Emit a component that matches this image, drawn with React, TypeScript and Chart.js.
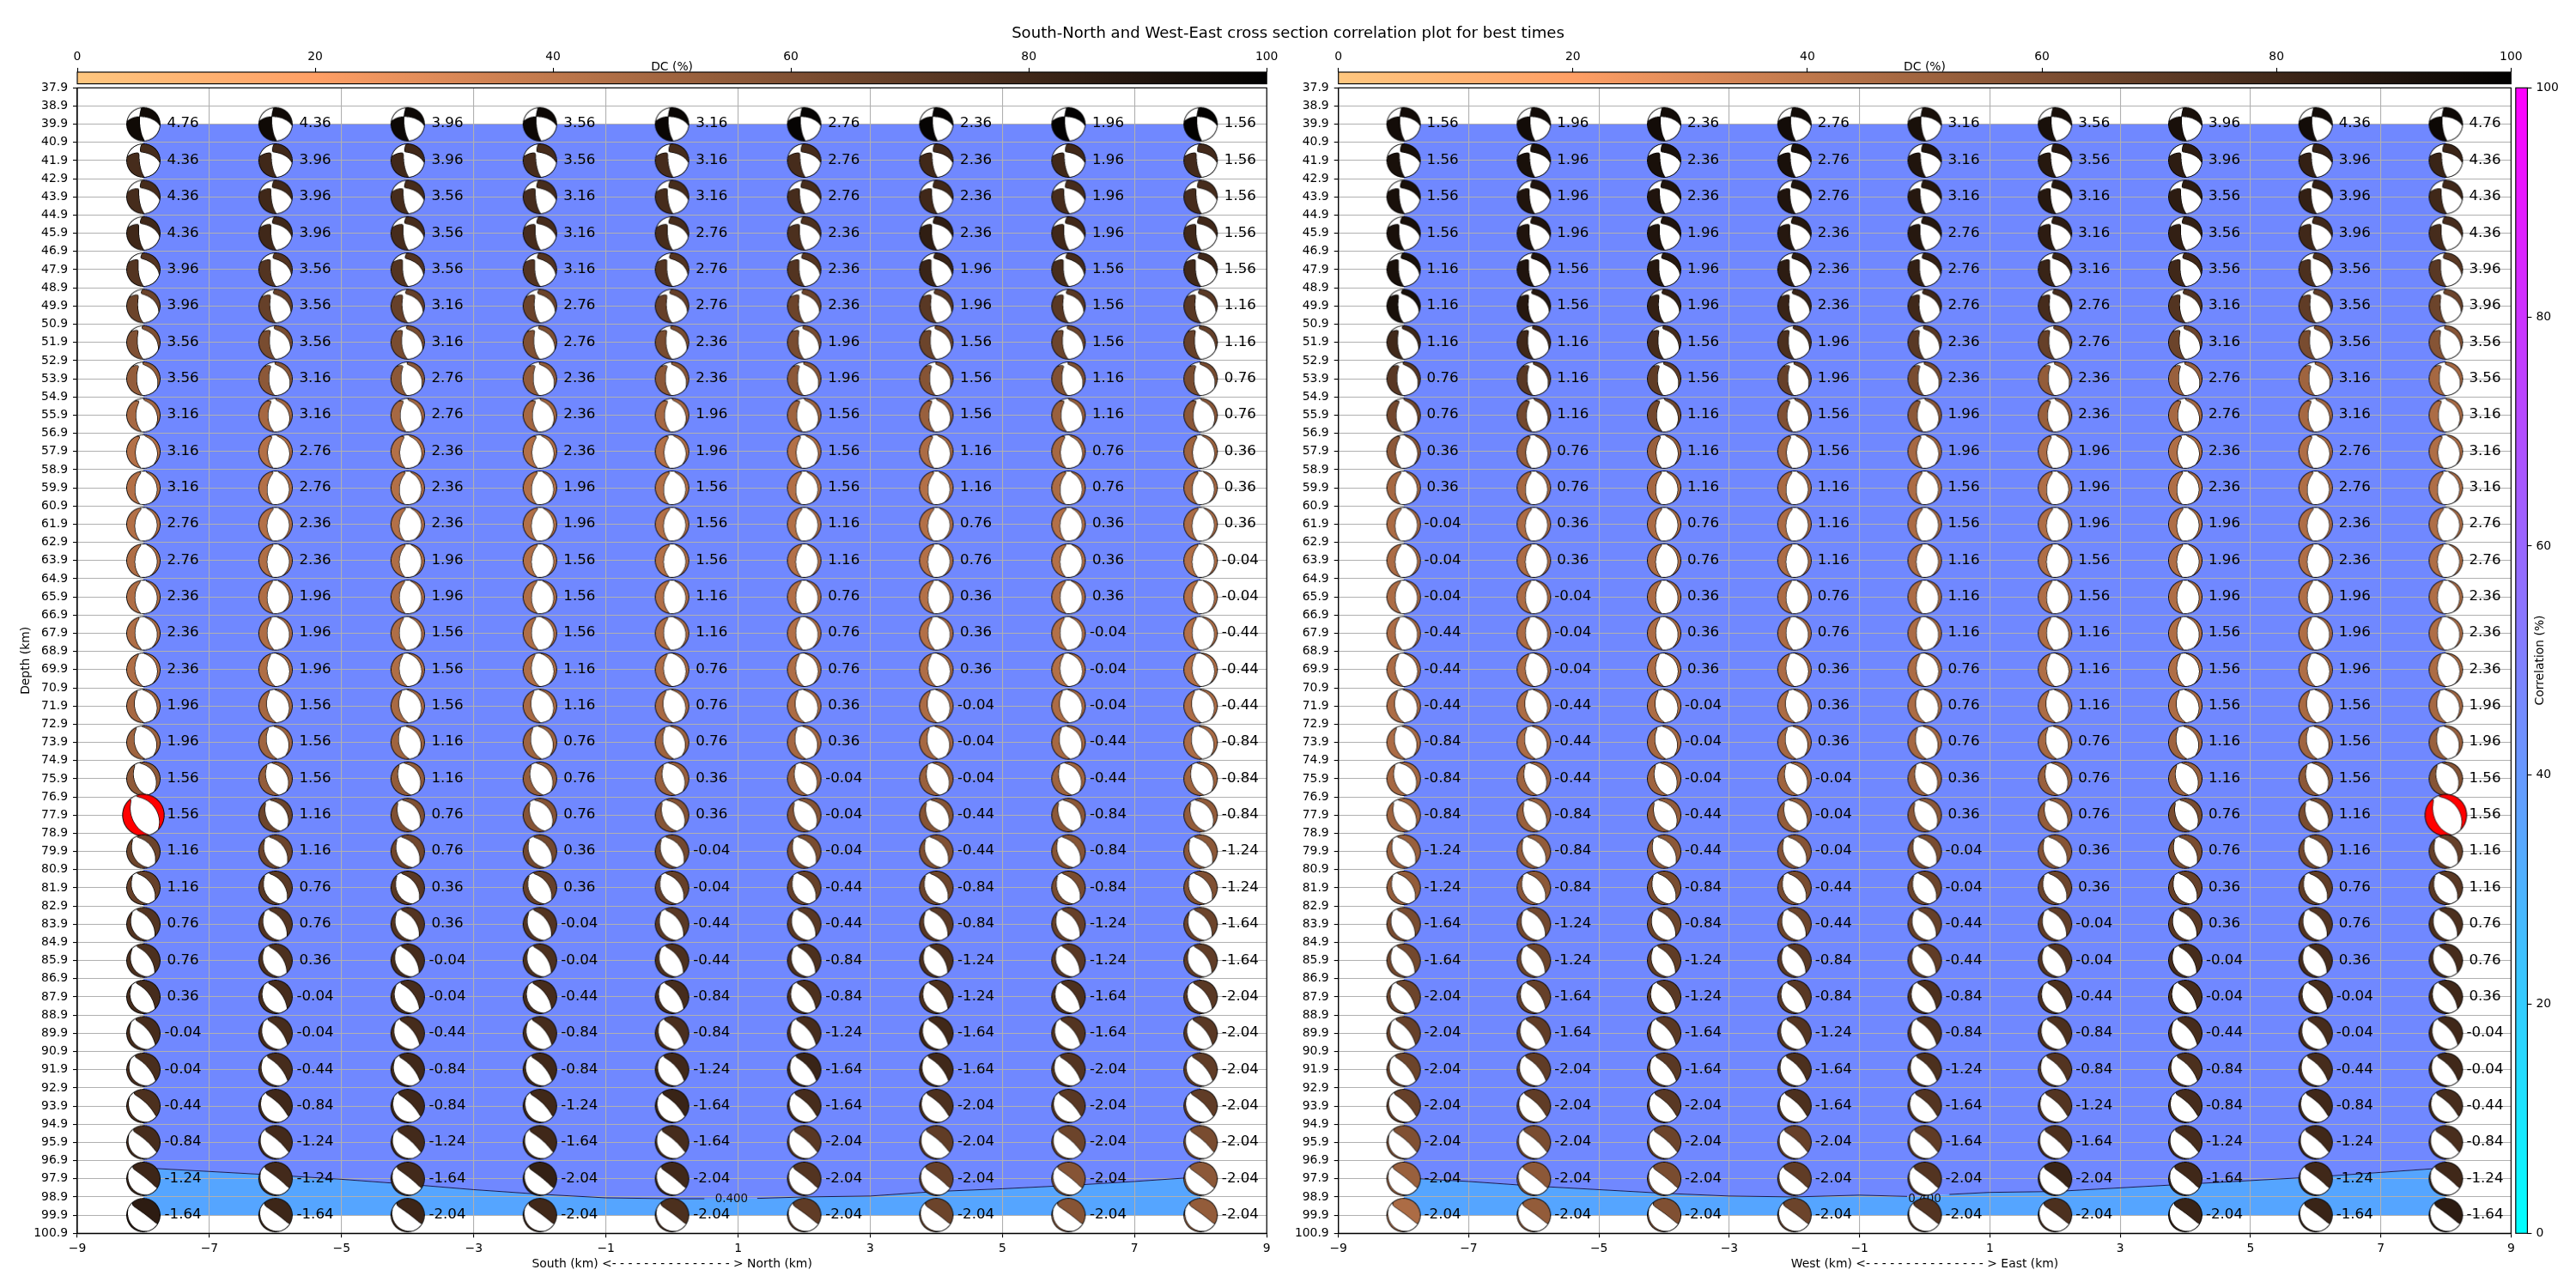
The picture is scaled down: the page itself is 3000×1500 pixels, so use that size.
import React, { useEffect, useRef } from "react";
import { Chart, registerables } from "chart.js";

Chart.register(...registerables);

const FONT = "'DejaVu Sans'";
const mainTitle = "South-North and West-East cross section correlation plot for best times";
const leftXTitle = "South (km) <- - - - - - - - - - - - - - - > North (km)";
const rightXTitle = "West (km) <- - - - - - - - - - - - - - - > East (km)";

const depthTicks = [37.9,38.9,39.9,40.9,41.9,42.9,43.9,44.9,45.9,46.9,47.9,48.9,49.9,50.9,51.9,52.9,53.9,54.9,55.9,56.9,57.9,58.9,59.9,60.9,61.9,62.9,63.9,64.9,65.9,66.9,67.9,68.9,69.9,70.9,71.9,72.9,73.9,74.9,75.9,76.9,77.9,78.9,79.9,80.9,81.9,82.9,83.9,84.9,85.9,86.9,87.9,88.9,89.9,90.9,91.9,92.9,93.9,94.9,95.9,96.9,97.9,98.9,99.9,100.9];
const xTicks = [-9,-7,-5,-3,-1,1,3,5,7,9];
const barTicks = [0,20,40,60,80,100];
const ballX = [-8,-6,-4,-2,0,2,4,6,8];
const ballDepths = [39.9,41.9,43.9,45.9,47.9,49.9,51.9,53.9,55.9,57.9,59.9,61.9,63.9,65.9,67.9,69.9,71.9,73.9,75.9,77.9,79.9,81.9,83.9,85.9,87.9,89.9,91.9,93.9,95.9,97.9,99.9];

const leftTimes = [
[4.76,4.36,3.96,3.56,3.16,2.76,2.36,1.96,1.56],
[4.36,3.96,3.96,3.56,3.16,2.76,2.36,1.96,1.56],
[4.36,3.96,3.56,3.16,3.16,2.76,2.36,1.96,1.56],
[4.36,3.96,3.56,3.16,2.76,2.36,2.36,1.96,1.56],
[3.96,3.56,3.56,3.16,2.76,2.36,1.96,1.56,1.56],
[3.96,3.56,3.16,2.76,2.76,2.36,1.96,1.56,1.16],
[3.56,3.56,3.16,2.76,2.36,1.96,1.56,1.56,1.16],
[3.56,3.16,2.76,2.36,2.36,1.96,1.56,1.16,0.76],
[3.16,3.16,2.76,2.36,1.96,1.56,1.56,1.16,0.76],
[3.16,2.76,2.36,2.36,1.96,1.56,1.16,0.76,0.36],
[3.16,2.76,2.36,1.96,1.56,1.56,1.16,0.76,0.36],
[2.76,2.36,2.36,1.96,1.56,1.16,0.76,0.36,0.36],
[2.76,2.36,1.96,1.56,1.56,1.16,0.76,0.36,-0.04],
[2.36,1.96,1.96,1.56,1.16,0.76,0.36,0.36,-0.04],
[2.36,1.96,1.56,1.56,1.16,0.76,0.36,-0.04,-0.44],
[2.36,1.96,1.56,1.16,0.76,0.76,0.36,-0.04,-0.44],
[1.96,1.56,1.56,1.16,0.76,0.36,-0.04,-0.04,-0.44],
[1.96,1.56,1.16,0.76,0.76,0.36,-0.04,-0.44,-0.84],
[1.56,1.56,1.16,0.76,0.36,-0.04,-0.04,-0.44,-0.84],
[1.56,1.16,0.76,0.76,0.36,-0.04,-0.44,-0.84,-0.84],
[1.16,1.16,0.76,0.36,-0.04,-0.04,-0.44,-0.84,-1.24],
[1.16,0.76,0.36,0.36,-0.04,-0.44,-0.84,-0.84,-1.24],
[0.76,0.76,0.36,-0.04,-0.44,-0.44,-0.84,-1.24,-1.64],
[0.76,0.36,-0.04,-0.04,-0.44,-0.84,-1.24,-1.24,-1.64],
[0.36,-0.04,-0.04,-0.44,-0.84,-0.84,-1.24,-1.64,-2.04],
[-0.04,-0.04,-0.44,-0.84,-0.84,-1.24,-1.64,-1.64,-2.04],
[-0.04,-0.44,-0.84,-0.84,-1.24,-1.64,-1.64,-2.04,-2.04],
[-0.44,-0.84,-0.84,-1.24,-1.64,-1.64,-2.04,-2.04,-2.04],
[-0.84,-1.24,-1.24,-1.64,-1.64,-2.04,-2.04,-2.04,-2.04],
[-1.24,-1.24,-1.64,-2.04,-2.04,-2.04,-2.04,-2.04,-2.04],
[-1.64,-1.64,-2.04,-2.04,-2.04,-2.04,-2.04,-2.04,-2.04],
];

const rightTimes = [
[1.56,1.96,2.36,2.76,3.16,3.56,3.96,4.36,4.76],
[1.56,1.96,2.36,2.76,3.16,3.56,3.96,3.96,4.36],
[1.56,1.96,2.36,2.76,3.16,3.16,3.56,3.96,4.36],
[1.56,1.96,1.96,2.36,2.76,3.16,3.56,3.96,4.36],
[1.16,1.56,1.96,2.36,2.76,3.16,3.56,3.56,3.96],
[1.16,1.56,1.96,2.36,2.76,2.76,3.16,3.56,3.96],
[1.16,1.16,1.56,1.96,2.36,2.76,3.16,3.56,3.56],
[0.76,1.16,1.56,1.96,2.36,2.36,2.76,3.16,3.56],
[0.76,1.16,1.16,1.56,1.96,2.36,2.76,3.16,3.16],
[0.36,0.76,1.16,1.56,1.96,1.96,2.36,2.76,3.16],
[0.36,0.76,1.16,1.16,1.56,1.96,2.36,2.76,3.16],
[-0.04,0.36,0.76,1.16,1.56,1.96,1.96,2.36,2.76],
[-0.04,0.36,0.76,1.16,1.16,1.56,1.96,2.36,2.76],
[-0.04,-0.04,0.36,0.76,1.16,1.56,1.96,1.96,2.36],
[-0.44,-0.04,0.36,0.76,1.16,1.16,1.56,1.96,2.36],
[-0.44,-0.04,0.36,0.36,0.76,1.16,1.56,1.96,2.36],
[-0.44,-0.44,-0.04,0.36,0.76,1.16,1.56,1.56,1.96],
[-0.84,-0.44,-0.04,0.36,0.76,0.76,1.16,1.56,1.96],
[-0.84,-0.44,-0.04,-0.04,0.36,0.76,1.16,1.56,1.56],
[-0.84,-0.84,-0.44,-0.04,0.36,0.76,0.76,1.16,1.56],
[-1.24,-0.84,-0.44,-0.04,-0.04,0.36,0.76,1.16,1.16],
[-1.24,-0.84,-0.84,-0.44,-0.04,0.36,0.36,0.76,1.16],
[-1.64,-1.24,-0.84,-0.44,-0.44,-0.04,0.36,0.76,0.76],
[-1.64,-1.24,-1.24,-0.84,-0.44,-0.04,-0.04,0.36,0.76],
[-2.04,-1.64,-1.24,-0.84,-0.84,-0.44,-0.04,-0.04,0.36],
[-2.04,-1.64,-1.64,-1.24,-0.84,-0.84,-0.44,-0.04,-0.04],
[-2.04,-2.04,-1.64,-1.64,-1.24,-0.84,-0.84,-0.44,-0.04],
[-2.04,-2.04,-2.04,-1.64,-1.64,-1.24,-0.84,-0.84,-0.44],
[-2.04,-2.04,-2.04,-2.04,-1.64,-1.64,-1.24,-1.24,-0.84],
[-2.04,-2.04,-2.04,-2.04,-2.04,-2.04,-1.64,-1.24,-1.24],
[-2.04,-2.04,-2.04,-2.04,-2.04,-2.04,-2.04,-1.64,-1.64],
];

const leftDC = [
[95,95,96,96,97,98,98,99,99],
[78,80,80,78,78,78,80,80,79],
[78,80,78,78,78,78,80,78,78],
[80,80,78,78,78,76,85,80,80],
[74,74,74,74,74,74,82,78,80],
[66,68,68,66,68,66,72,72,72],
[60,62,62,60,62,62,66,66,68],
[54,56,56,54,56,56,58,60,62],
[48,48,48,48,48,50,52,52,56],
[44,44,44,44,44,44,46,48,50],
[44,44,44,44,44,44,44,46,48],
[44,44,44,44,44,44,44,44,46],
[45,45,45,44,44,44,44,44,44],
[45,45,45,45,44,44,44,44,44],
[45,45,45,45,45,44,44,44,44],
[45,45,45,45,45,45,45,44,44],
[48,48,47,47,47,46,46,46,45],
[50,50,50,50,50,48,48,48,46],
[55,54,54,53,52,52,52,50,50],
[55,66,60,58,58,58,58,56,54],
[66,66,65,64,64,62,60,58,56],
[68,72,72,68,68,68,66,62,60],
[74,74,74,74,72,72,72,68,66],
[76,76,78,76,76,76,76,72,70],
[78,78,78,78,78,76,76,76,72],
[78,78,78,78,77,78,80,74,72],
[77,78,80,80,80,82,80,74,70],
[76,80,80,80,82,78,76,72,70],
[78,79,79,80,78,72,70,66,62],
[81,79,79,84,80,74,68,58,56],
[86,81,81,80,76,70,66,58,54],
];

const rightDC = [
[94,94,94,94,92,92,92,94,96],
[92,92,92,92,90,88,86,84,82],
[92,90,90,90,88,88,86,84,80],
[92,90,90,88,88,86,84,80,78],
[92,90,88,86,84,82,80,76,72],
[92,88,84,82,80,78,74,70,66],
[80,80,78,76,72,68,66,62,58],
[72,72,70,68,62,54,52,50,48],
[64,64,64,60,56,52,48,48,46],
[56,54,52,50,48,46,45,45,45],
[48,48,48,47,46,45,45,45,45],
[46,46,46,46,46,45,45,45,45],
[46,46,46,46,46,45,45,45,45],
[46,46,46,46,46,45,45,45,45],
[46,46,46,46,46,45,45,45,45],
[46,46,46,46,46,45,45,45,46],
[46,46,46,46,46,46,46,47,48],
[46,46,48,48,48,48,50,50,52],
[48,50,50,50,52,52,52,56,58],
[50,52,54,54,56,54,62,62,55],
[52,54,56,58,62,58,62,64,68],
[54,56,62,62,66,66,68,70,72],
[62,64,66,66,68,70,72,74,76],
[64,66,70,72,70,74,78,78,78],
[66,68,72,72,76,76,78,78,80],
[68,70,72,74,76,76,78,78,80],
[66,70,72,76,76,74,76,78,80],
[68,70,72,76,74,74,78,80,78],
[60,62,66,68,70,76,78,80,77],
[52,56,62,70,74,82,80,80,80],
[46,54,60,66,74,76,82,82,86],
];

// principal axes of the focal mechanism per depth row
const tAzimuth = [230,232,234,236,240,244,248,253,258,263,268,270,269,267,263,260,256,252,246,240,238,238,238,238,236,234,232,228,225,222,220];
const tPlunge = [12,12,12,13,14,15,16,16,15,15,14,14,14,14,14,14,12,10,7,4,-4,-7,-11,-14,-17,-20,-23,-27,-30,-33,-35];
const bAzimuth = [334,334,335,336,340,344,346,350,352,355,358,0,359,357,353,350,346,342,336,330,328,328,328,328,326,324,322,318,315,312,310];
const bPlunge = [49,46,43,40,34,28,22,17,13,10,8,6,5,5,5,5,5,5,5,6,6,6,6,6,6,6,6,6,6,6,6];
const eigenB = [0,-0.01,-0.01,-0.01,-0.02,-0.02,-0.03,-0.03,-0.03,-0.03,-0.03,-0.03,-0.03,-0.03,-0.03,-0.03,-0.03,-0.03,-0.03,-0.03,-0.03,-0.03,-0.03,-0.03,-0.03,-0.03,-0.03,-0.03,-0.03,-0.03,-0.03];
const eigenP = [-1,-1,-1,-1.05,-1.1,-1.2,-1.3,-1.5,-1.7,-1.9,-2,-2.05,-2.05,-2.05,-2.05,-2.05,-2,-1.8,-1.6,-1.4,-1.35,-1.3,-1.3,-1.2,-1.15,-1.1,-1.1,-1.05,-1,-0.85,-0.85];

const contourXLeft = [-8,-7,-6,-5,-4,-3,-2,-1,0,0.49,0.9,1.29,2,3,4,5,6,7,8];
const contourDepthLeft = [97.3,97.5,97.7,97.93,98.2,98.5,98.75,98.95,99.0,99.0,null,98.98,98.9,98.85,98.6,98.45,98.27,98.05,97.8];
const contourXRight = [-8,-7,-6,-5,-4,-3,-2,-1,-0.27,0,0.38,1,2,3,4,5,6,7,8];
const contourDepthRight = [97.85,98.05,98.3,98.5,98.7,98.85,98.9,98.8,98.87,null,98.76,98.65,98.6,98.4,98.2,98,97.8,97.55,97.3];
const contourLabel = "0.400";
const contourLabelXLeft = 0.9;
const contourLabelXRight = 0;
const contourLabelDepth = 99.0;

const TOP_DEPTH = 39.9;
const BOTTOM_DEPTH = 99.9;
const BEST_ROW = 19;
const BEST_COL_LEFT = 0;
const BEST_COL_RIGHT = 8;
const LABEL_OFFSET = 0.6;

const BLUE_UPPER = "#7088ff";
const BLUE_LOWER = "#55a5ff";
const GRID = "#b0b0b0";

const rad = (d: number) => (d * Math.PI) / 180;
const dirOf = (az: number, pl: number) => [Math.sin(rad(az)) * Math.cos(rad(pl)), Math.cos(rad(az)) * Math.cos(rad(pl)), Math.sin(rad(pl))];
const dot = (a: number[], b: number[]) => a[0] * b[0] + a[1] * b[1] + a[2] * b[2];
const cross = (a: number[], b: number[]) => [a[1] * b[2] - a[2] * b[1], a[2] * b[0] - a[0] * b[2], a[0] * b[1] - a[1] * b[0]];
const unit = (a: number[]) => { const n = Math.hypot(a[0], a[1], a[2]); return [a[0] / n, a[1] / n, a[2] / n]; };

function copperR(dc: number): [number, number, number] {
  const x = 1 - dc / 100;
  return [Math.min(1, 1.25 * x) * 255, 0.7812 * x * 255, 0.4975 * x * 255];
}

function makeBall(row: number, rgb: [number, number, number], r: number) {
  const T = dirOf(tAzimuth[row], tPlunge[row]);
  let B = dirOf(bAzimuth[row], bPlunge[row]);
  const d = dot(B, T);
  B = unit([B[0] - d * T[0], B[1] - d * T[1], B[2] - d * T[2]]);
  const P = cross(T, B);
  const eB = eigenB[row];
  const eP = eigenP[row];
  const size = 2 * Math.ceil(r) + 4;
  const ss = 3;
  const n = size * ss;
  const sign = new Int8Array(n * n);
  for (let j = 0; j < n; j++) {
    for (let i = 0; i < n; i++) {
      const X = ((i + 0.5) / ss - size / 2) / r;
      const Y = -((j + 0.5) / ss - size / 2) / r;
      const rho = Math.hypot(X, Y);
      if (rho > 1) continue;
      const th = 2 * Math.asin(rho / Math.SQRT2);
      const s = Math.sin(th);
      const v = rho > 0 ? [(X / rho) * s, (Y / rho) * s, Math.cos(th)] : [0, 0, 1];
      const a = dot(v, T) ** 2 + eB * dot(v, B) ** 2 + eP * dot(v, P) ** 2;
      sign[j * n + i] = a > 0 ? 1 : 2;
    }
  }
  const cv = document.createElement("canvas");
  cv.width = size;
  cv.height = size;
  const c = cv.getContext("2d")!;
  const img = c.createImageData(size, size);
  const edgeR = 1 - 0.9 / r;
  for (let py = 0; py < size; py++) {
    for (let px = 0; px < size; px++) {
      let R = 0, G = 0, Bl = 0, A = 0;
      for (let sy = 0; sy < ss; sy++) {
        for (let sx = 0; sx < ss; sx++) {
          const j = py * ss + sy;
          const i = px * ss + sx;
          const sg = sign[j * n + i];
          if (!sg) continue;
          A += 1;
          const X = ((i + 0.5) / ss - size / 2) / r;
          const Y = ((j + 0.5) / ss - size / 2) / r;
          const nb = [sign[j * n + i + 1], sign[j * n + i - 1], sign[(j + 1) * n + i], sign[(j - 1) * n + i]];
          const onEdge = Math.hypot(X, Y) > edgeR || nb.some((q) => q && q !== sg);
          if (onEdge) continue; // black
          if (sg === 1) { R += rgb[0]; G += rgb[1]; Bl += rgb[2]; } else { R += 255; G += 255; Bl += 255; }
        }
      }
      const o = (py * size + px) * 4;
      if (A) {
        img.data[o] = R / A;
        img.data[o + 1] = G / A;
        img.data[o + 2] = Bl / A;
        img.data[o + 3] = (A / (ss * ss)) * 255;
      }
    }
  }
  c.putImageData(img, 0, 0);
  return cv;
}

function frame(chart: any) {
  const { ctx, chartArea: a } = chart;
  ctx.save();
  ctx.strokeStyle = "#000";
  ctx.lineWidth = 1.15;
  ctx.strokeRect(a.left, a.top, a.right - a.left, a.bottom - a.top);
  ctx.restore();
}

function copperGradient(chart: any) {
  const { ctx, chartArea: a } = chart;
  if (!a) return "#000";
  const g = ctx.createLinearGradient(a.left, 0, a.right, 0);
  for (let d = 0; d <= 100; d += 5) {
    const [r, gg, b] = copperR(d);
    g.addColorStop(d / 100, `rgb(${r},${gg},${b})`);
  }
  return g;
}

function coolGradient(chart: any) {
  const { ctx, chartArea: a } = chart;
  if (!a) return "#000";
  const g = ctx.createLinearGradient(0, a.bottom, 0, a.top);
  g.addColorStop(0, "rgb(0,255,255)");
  g.addColorStop(1, "rgb(255,0,255)");
  return g;
}

const tickFont = { family: FONT, size: 13.9 };

function mainConfig(opts: any) {
  const { left, right, axisWidth, times, dc, bestCol, cx, cd, labelX, xTitle, yTitle, drawTitle } = opts;
  const points: any[] = [];
  const balls: any[] = [];
  const labels: any[] = [];
  ballDepths.forEach((depth, row) => {
    ballX.forEach((x, col) => {
      const best = row === BEST_ROW && col === bestCol;
      points.push({ x, y: depth });
      balls.push(makeBall(row, best ? [255, 0, 0] : copperR(dc[row][col]), best ? 24.7 : 19.9));
      labels.push({ x: x + LABEL_OFFSET, y: depth, t: times[row][col].toFixed(2) });
    });
  });
  const line = cx.map((x: number, i: number) => ({ x, y: cd[i] }));
  const bound = line.filter((p: any) => p.y !== null);
  return {
    type: "scatter",
    data: {
      datasets: [
        { data: points, pointStyle: (c: any) => balls[c.dataIndex], pointRadius: 20, showLine: false },
        { data: line, showLine: true, borderColor: "#1a1a50", borderWidth: 1, pointRadius: 0, spanGaps: false, fill: false },
        { data: bound, showLine: true, borderWidth: 0, pointRadius: 0, backgroundColor: BLUE_UPPER, fill: { value: TOP_DEPTH } },
        { data: bound, showLine: true, borderWidth: 0, pointRadius: 0, backgroundColor: BLUE_LOWER, fill: { value: BOTTOM_DEPTH } },
      ],
    },
    options: {
      responsive: false,
      animation: false,
      devicePixelRatio: 1,
      layout: { padding: { left: left - axisWidth, right: 3000 - right, top: 102.3, bottom: 0 } },
      plugins: {
        legend: { display: false },
        tooltip: { enabled: false },
        filler: { drawTime: "beforeDraw" },
      },
      scales: {
        x: {
          type: "linear",
          min: -9,
          max: 9,
          afterBuildTicks: (s: any) => { s.ticks = xTicks.map((value) => ({ value })); },
          afterFit: (s: any) => { s.height = 1500 - 1436.3; s.paddingLeft = 0; s.paddingRight = 0; },
          ticks: {
            font: tickFont, color: "#000", padding: 5, maxRotation: 0, autoSkip: false,
            callback: (v: number) => (v < 0 ? "\u2212" + Math.abs(v) : String(v)),
          },
          grid: { color: GRID, lineWidth: 1.1, tickColor: "#000", tickLength: 5, tickWidth: 1.1 },
          border: { color: "#000", width: 1.15 },
          title: { display: true, text: xTitle, font: { family: FONT, size: 13.9 }, color: "#000", padding: { top: 0, bottom: 19.6 } },
        },
        y: {
          type: "linear",
          reverse: true,
          min: 37.9,
          max: 100.9,
          afterBuildTicks: (s: any) => { s.ticks = depthTicks.map((value) => ({ value })); },
          afterFit: (s: any) => { s.width = axisWidth; s.paddingTop = 0; s.paddingBottom = 0; },
          ticks: { font: tickFont, color: "#000", padding: 6, autoSkip: false, maxRotation: 0, callback: (v: number) => v.toFixed(1) },
          grid: { color: GRID, lineWidth: 1.1, tickColor: "#000", tickLength: 5, tickWidth: 1.1 },
          border: { color: "#000", width: 1.15 },
          title: yTitle
            ? { display: true, text: yTitle, font: { family: FONT, size: 13.9 }, color: "#000", padding: { top: 21.6, bottom: 0 } }
            : { display: false },
        },
      },
    },
    plugins: [
      {
        id: "overlays",
        beforeDatasetsDraw(chart: any) {
          const { ctx, scales } = chart;
          frame(chart);
          ctx.save();
          ctx.font = `13.4px ${FONT}`;
          ctx.fillStyle = "#111";
          ctx.textAlign = "center";
          ctx.textBaseline = "middle";
          ctx.fillText(contourLabel, scales.x.getPixelForValue(labelX), scales.y.getPixelForValue(contourLabelDepth));
          ctx.restore();
        },
        afterDatasetsDraw(chart: any) {
          const { ctx, scales } = chart;
          ctx.save();
          ctx.font = `16.67px ${FONT}`;
          ctx.fillStyle = "#000";
          ctx.textAlign = "center";
          ctx.textBaseline = "middle";
          labels.forEach((l) => ctx.fillText(l.t, scales.x.getPixelForValue(l.x), scales.y.getPixelForValue(l.y) - 0.5));
          if (drawTitle) {
            ctx.font = `18.1px ${FONT}`;
            ctx.fillText(mainTitle, 1500, 39);
          }
          ctx.restore();
        },
      },
    ],
  };
}

function topBarConfig(left: number, right: number) {
  return {
    type: "bar",
    data: { labels: ["DC"], datasets: [{ data: [100], backgroundColor: (c: any) => copperGradient(c.chart), barPercentage: 1, categoryPercentage: 1 }] },
    options: {
      indexAxis: "y",
      responsive: false,
      animation: false,
      devicePixelRatio: 1,
      layout: { padding: { left, right: 3000 - right, top: 0, bottom: 1500 - 97.6 } },
      plugins: { legend: { display: false }, tooltip: { enabled: false } },
      scales: {
        y: { display: false },
        x: {
          position: "top",
          type: "linear",
          min: 0,
          max: 100,
          afterBuildTicks: (s: any) => { s.ticks = barTicks.map((value) => ({ value })); },
          afterFit: (s: any) => { s.height = 84; s.paddingLeft = 0; s.paddingRight = 0; },
          ticks: { font: tickFont, color: "#000", padding: 4, maxRotation: 0, autoSkip: false },
          grid: { drawOnChartArea: false, tickColor: "#000", tickLength: 5, tickWidth: 1.1 },
          border: { display: false },
          title: { display: true, text: "DC (%)", font: { family: FONT, size: 13.9 }, color: "#000", padding: { top: 69.6, bottom: 0 } },
        },
      },
    },
    plugins: [{ id: "frame", afterDatasetsDraw: (chart: any) => frame(chart) }],
  };
}

function sideBarConfig() {
  return {
    type: "bar",
    data: { labels: ["r"], datasets: [{ data: [100], backgroundColor: (c: any) => coolGradient(c.chart), barPercentage: 1, categoryPercentage: 1 }] },
    options: {
      responsive: false,
      animation: false,
      devicePixelRatio: 1,
      layout: { padding: { left: 2929.8, right: 0, top: 102.3, bottom: 1500 - 1436.3 } },
      plugins: { legend: { display: false }, tooltip: { enabled: false } },
      scales: {
        x: { display: false },
        y: {
          position: "right",
          type: "linear",
          min: 0,
          max: 100,
          afterBuildTicks: (s: any) => { s.ticks = barTicks.map((value) => ({ value })); },
          afterFit: (s: any) => { s.width = 3000 - 2943.4; s.paddingTop = 0; s.paddingBottom = 0; },
          ticks: { font: tickFont, color: "#000", padding: 5, autoSkip: false, maxRotation: 0 },
          grid: { drawOnChartArea: false, tickColor: "#000", tickLength: 5, tickWidth: 1.1 },
          border: { display: false },
        },
      },
    },
    plugins: [
      {
        id: "frameAndTitle",
        afterDatasetsDraw(chart: any) {
          frame(chart);
          const { ctx } = chart;
          ctx.save();
          ctx.translate(2958, 769);
          ctx.rotate(-Math.PI / 2);
          ctx.font = `13.9px ${FONT}`;
          ctx.fillStyle = "#000";
          ctx.textAlign = "center";
          ctx.textBaseline = "middle";
          ctx.fillText("Correlation (%)", 0, 0);
          ctx.restore();
        },
      },
    ],
  };
}

export default function App() {
  const r1 = useRef<HTMLCanvasElement>(null);
  const r2 = useRef<HTMLCanvasElement>(null);
  const r3 = useRef<HTMLCanvasElement>(null);
  const r4 = useRef<HTMLCanvasElement>(null);
  const r5 = useRef<HTMLCanvasElement>(null);
  useEffect(() => {
    const charts = [
      new Chart(r1.current!, mainConfig({ left: 90, right: 1475.2, axisWidth: 90, times: leftTimes, dc: leftDC, bestCol: BEST_COL_LEFT, cx: contourXLeft, cd: contourDepthLeft, labelX: contourLabelXLeft, xTitle: leftXTitle, yTitle: "Depth (km)", drawTitle: true }) as any),
      new Chart(r2.current!, mainConfig({ left: 1558.7, right: 2924.3, axisWidth: 70, times: rightTimes, dc: rightDC, bestCol: BEST_COL_RIGHT, cx: contourXRight, cd: contourDepthRight, labelX: contourLabelXRight, xTitle: rightXTitle, yTitle: "", drawTitle: false }) as any),
      new Chart(r3.current!, topBarConfig(90, 1475.2) as any),
      new Chart(r4.current!, topBarConfig(1558.7, 2924.3) as any),
      new Chart(r5.current!, sideBarConfig() as any),
    ];
    return () => charts.forEach((c) => c.destroy());
  }, []);
  const st: React.CSSProperties = { position: "absolute", left: 0, top: 0, width: 3000, height: 1500 };
  return (
    <div style={{ position: "absolute", left: 0, top: 0, width: 3000, height: 1500, background: "#fff", overflow: "hidden" }}>
      <canvas ref={r1} width={3000} height={1500} style={st} />
      <canvas ref={r2} width={3000} height={1500} style={st} />
      <canvas ref={r3} width={3000} height={1500} style={st} />
      <canvas ref={r4} width={3000} height={1500} style={st} />
      <canvas ref={r5} width={3000} height={1500} style={st} />
    </div>
  );
}
